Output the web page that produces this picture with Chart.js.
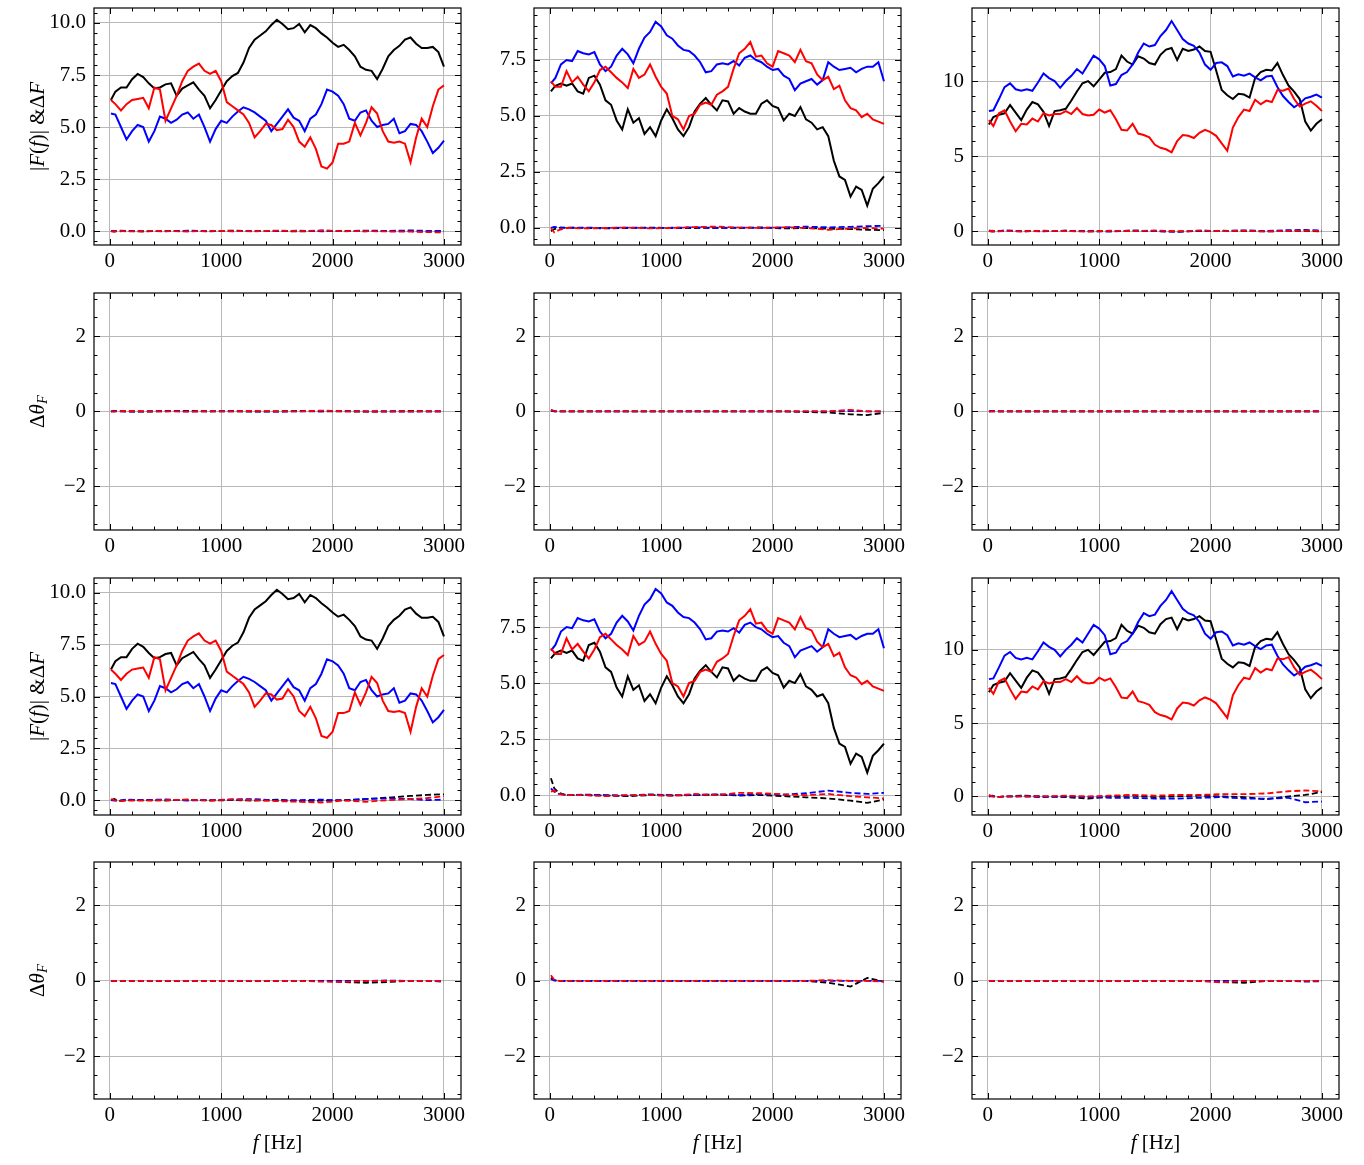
<!DOCTYPE html>
<html>
<head>
<meta charset="utf-8">
<script src="https://cdn.jsdelivr.net/npm/chart.js@4.4.1/dist/chart.umd.min.js"></script>
<style>
  body { margin: 0; background: #fff; width: 1364px; height: 1165px; position: relative; overflow: hidden; }
  canvas { position: absolute; }
</style>
</head>
<body>
<script>
// frequency grids (Hz)
var freq = [10,50,100,150,200,250,300,350,400,450,500,550,600,650,700,750,800,850,900,950,
  1000,1050,1100,1150,1200,1250,1300,1350,1400,1450,1500,1550,1600,1650,1700,1750,1800,1850,1900,1950,
  2000,2050,2100,2150,2200,2250,2300,2350,2400,2450,2500,2550,2600,2650,2700,2750,2800,2850,2900,2950,3000];
var freqLow = [10,40,80,150,300,500,700,900,1100,1300,1500,1700,1900,2100,2300,2500,2700,2850,3000];

// |F(f)| curves, column 1
var magA_black = [6.3,6.7,6.9,6.9,7.3,7.55,7.4,7.1,6.85,6.9,7.05,7.1,6.5,6.85,7.0,7.15,6.8,6.5,5.9,6.3,6.75,7.2,7.45,7.6,8.1,8.8,9.2,9.4,9.6,9.9,10.15,9.95,9.7,9.75,9.95,9.55,9.9,9.75,9.5,9.3,9.05,8.85,8.95,8.7,8.4,7.9,7.75,7.7,7.3,7.8,8.4,8.7,8.9,9.2,9.3,9.0,8.8,8.8,8.85,8.6,7.9];
var magA_red = [6.3,6.1,5.8,6.1,6.3,6.35,6.4,5.9,6.9,6.8,5.3,5.9,6.5,7.2,7.7,7.9,8.05,7.7,7.55,7.7,7.2,6.2,6.0,5.8,5.6,5.2,4.5,4.8,5.15,5.1,4.85,4.9,5.35,5.0,4.3,4.05,4.5,3.95,3.1,3.0,3.3,4.2,4.2,4.3,5.2,4.6,5.2,5.95,5.65,4.8,4.3,4.25,4.3,4.2,3.3,4.5,5.4,5.0,6.0,6.8,7.0];
var magA_blue = [5.65,5.6,5.0,4.4,4.8,5.1,5.0,4.3,4.8,5.5,5.4,5.2,5.35,5.6,5.7,5.4,5.6,5.0,4.3,4.9,5.3,5.2,5.5,5.75,5.95,5.85,5.7,5.5,5.3,4.8,5.15,5.5,5.85,5.45,5.3,4.8,5.4,5.6,6.1,6.8,6.7,6.5,6.1,5.4,5.3,5.7,5.8,5.3,5.0,5.1,5.15,5.4,4.7,4.8,5.15,5.1,4.8,4.3,3.75,4.0,4.35];

// |F(f)| curves, column 2
var magB_black = [6.1,6.35,6.45,6.35,6.45,6.1,6.0,6.7,6.8,6.4,5.7,5.5,4.8,4.4,5.3,4.7,4.9,4.2,4.5,4.1,4.8,5.3,4.9,4.4,4.1,4.5,5.2,5.55,5.8,5.5,5.25,5.7,5.65,5.1,5.35,5.2,5.1,5.1,5.55,5.7,5.45,5.35,4.8,5.1,5.0,5.4,4.85,4.7,4.4,4.5,4.1,3.0,2.3,2.15,1.4,1.85,1.7,1.0,1.75,2.0,2.3];
var magB_red = [6.55,6.3,6.3,7.0,6.5,6.75,6.4,6.1,6.5,7.05,7.2,6.95,6.7,6.5,6.25,7.1,6.7,6.85,7.3,6.75,6.3,6.0,5.0,4.85,4.4,5.0,5.1,5.5,5.6,5.5,5.95,6.1,6.3,7.1,7.8,8.0,8.3,7.65,7.7,7.35,7.2,7.9,7.8,7.7,7.4,7.95,7.45,7.35,6.85,6.6,6.75,6.2,6.35,5.7,5.35,5.25,4.95,5.1,4.85,4.75,4.65];
var magB_blue = [6.45,6.7,7.3,7.5,7.45,7.9,7.8,7.75,7.85,7.3,7.0,7.2,7.7,8.0,7.75,7.35,8.0,8.5,8.75,9.2,9.0,8.6,8.45,8.15,7.95,7.9,7.7,7.4,6.95,7.0,7.3,7.35,7.3,7.45,7.25,7.6,7.7,7.5,7.4,7.2,7.05,7.1,6.8,6.65,6.15,6.45,6.55,6.65,6.4,6.6,7.4,7.2,7.05,7.1,7.15,6.95,7.1,7.2,7.2,7.4,6.55];

// |F(f)| curves, column 3
var magC_black = [7.1,7.6,7.75,7.85,8.4,7.9,7.4,8.1,8.6,8.45,7.95,7.0,8.0,8.05,8.15,8.7,9.3,9.85,10.0,9.65,10.1,10.55,10.6,10.8,11.7,11.3,11.1,11.65,11.5,11.2,11.1,11.75,12.1,12.2,11.4,12.15,12.0,12.1,12.3,12.0,11.95,10.7,9.4,9.05,8.8,9.15,9.1,8.9,10.2,10.6,10.75,10.7,11.2,10.4,9.7,9.3,8.8,7.3,6.7,7.15,7.45];
var magC_red = [7.4,7.0,7.85,8.05,7.3,6.65,7.15,7.1,7.5,7.3,7.85,7.7,7.8,7.8,8.0,7.8,8.2,7.8,7.7,7.75,8.1,7.9,8.05,7.45,6.75,6.7,7.15,6.5,6.4,6.25,5.75,5.55,5.45,5.25,6.0,6.4,6.35,6.2,6.55,6.75,6.6,6.35,5.85,5.35,6.9,7.6,8.1,8.0,8.75,8.45,8.7,8.6,9.4,9.35,9.5,8.8,8.3,8.5,8.65,8.35,8.0];
var magC_blue = [8.0,8.05,8.8,9.6,9.85,9.45,9.35,9.45,9.35,9.9,10.5,10.2,10.0,9.55,10.0,10.35,10.8,10.5,11.1,11.7,11.45,11.0,9.7,9.8,10.4,10.6,11.1,11.9,12.5,12.3,12.4,13.0,13.4,14.0,13.4,12.8,12.5,12.35,11.9,11.1,10.75,11.2,11.25,11.0,10.3,10.45,10.35,10.5,10.25,10.05,10.3,10.35,9.6,9.0,8.6,8.25,8.5,8.85,8.95,9.1,8.9];

// Delta F (dashed), row 1
var dA_black = [0,-0.03,0.02,0,-0.02,0.01,0,-0.01,0.02,0,0.01,-0.02,0.02,0,-0.01,0.01,0,-0.02,0];
var dA_blue = [0,0.01,-0.02,0.01,0,-0.01,0.02,0,-0.01,0.01,0,0.02,-0.01,0,0.02,0.01,0.03,0.01,0];
var dA_red = [0,-0.02,0.01,-0.02,0.01,0,-0.02,0.01,0,-0.01,0.02,0,0.03,-0.01,0,-0.02,-0.03,-0.05,-0.07];
var dB_black = [-0.15,-0.05,0,0.02,0,-0.02,0,0.02,-0.01,0,0.01,0,0.03,-0.02,0,-0.03,-0.05,-0.08,-0.1];
var dB_blue = [0,0.05,0.03,0,0.02,0,0.02,0,0.01,0.03,0,0.02,0,0.03,0.06,0.03,0.05,0.08,0.1];
var dB_red = [0,-0.2,-0.1,0,-0.02,0,0.02,-0.02,0,0.04,0.06,0.02,0,0.03,0,-0.08,-0.02,0,-0.03];
var dC_black = [0,-0.03,0,0.02,-0.02,0,0.02,-0.02,0,0.03,0,-0.03,0,0.02,0,-0.02,0,0.02,-0.02];
var dC_blue = [0.05,0,-0.03,0.05,0,-0.02,0.02,0,-0.04,0.03,0,-0.06,0.03,0,0.05,0,0.06,0.08,0.03];
var dC_red = [0,0.02,-0.03,0,-0.02,0.02,0,-0.03,0.02,0,0.04,-0.02,0.03,0,0.02,-0.02,0,0.03,0];

// Delta F (dashed), row 3
var dD_black = [0,0.05,-0.05,0,0,-0.02,0.02,-0.02,0,-0.03,0.02,-0.05,-0.03,0,0.05,0.12,0.2,0.25,0.28];
var dD_blue = [0,-0.03,-0.02,0.02,0,0.03,-0.02,0,0.03,0.05,-0.02,0,0.02,-0.02,0.05,0.08,0.05,0,0.02];
var dD_red = [0.05,0,-0.05,-0.02,-0.03,0,0.02,-0.02,0.03,0,-0.05,-0.08,-0.12,-0.02,-0.08,0,0.05,0.1,0.18];
var dE_black = [0.75,0.3,0.1,0,0,-0.02,-0.05,0,-0.02,0,0.02,-0.02,0,-0.05,-0.1,-0.15,-0.25,-0.35,-0.2];
var dE_blue = [0.3,0.15,0.05,0,0.02,0,-0.02,0.03,0,0,0.03,0,0.05,0.02,0.08,0.2,0.1,0.05,0.1];
var dE_red = [0.15,0.2,0.05,0,0,-0.05,0,0,-0.03,0.05,0,0.1,0.08,0.03,0,0.05,-0.05,-0.1,-0.15];
var dF_black = [0,0.05,-0.05,0,0.05,0,-0.05,-0.15,0,0.05,-0.05,0,0.05,0,-0.05,-0.2,0,0.1,0.3];
var dF_blue = [0,0.02,-0.05,-0.02,0,-0.05,0,-0.05,-0.1,-0.1,-0.15,-0.15,-0.1,-0.05,-0.15,-0.15,-0.1,-0.4,-0.35];
var dF_red = [0.1,0,-0.05,0,0,0,0.05,0,0.05,0.1,0.05,0.1,0.1,0.15,0.15,0.2,0.35,0.4,0.35];

// Delta theta_F (dashed), row 2
var pA_black = [0,0,0.01,0,-0.01,0,0.01,0,0,-0.01,0,0.01,0,0,-0.01,0,0.01,0,0];
var pA_blue = [0,0.01,0,-0.01,0,0.01,0,0,0.01,0,-0.01,0,0,0.01,0,0,-0.01,0,0];
var pA_red = [0,-0.01,0,0.01,0,0,-0.01,0,0,0.01,0,0,0.02,0,0,-0.01,0,0,0];
var pB_black = [0.02,0,0,0,0,0,0,0,0,0,0,0,0,0,-0.02,-0.03,-0.08,-0.1,-0.04];
var pB_blue = [0.03,0,0,0,0,0,0,0,0,0,0,0,0,0,0,0,0.01,0,0];
var pB_red = [0.04,0.01,0,0,0,0,0,0,0,0,0,0,0,0,0,0,0.04,0,0];
var pC_black = [0,0,0,0,0,0,0,0,0,0,0,0,0,0,0,0,0,0,0];
var pC_blue = [0,0.01,0,0,0,0,0,0,0,0,0,0,0,0,0,0,0,0,0];
var pC_red = [0,0,0,0,0,0,0,0,0,0,0,0,0,0,0,0,0,0,0];

// Delta theta_F (dashed), row 4
var pD_black = [0,0,0,0,0,0,0,0,0,0,0,0,0,-0.03,-0.05,-0.03,0,0,0];
var pD_blue = [0,0,0,0,0,0,0,0,0,0,0,0,0,0,0,0.01,0,0,-0.02];
var pD_red = [0,0,0,0,0,0,0,0,0,0,0,0,-0.02,-0.03,0,0,0,0,0];
var pE_black = [0.08,0.02,0,0,0,0,0,0,0,0,0,0,0,0,0,-0.05,-0.15,0.08,-0.02];
var pE_blue = [0.05,0.01,0,0,0,0,0,0,0,0,0,0,0,0,0,0,0,0,0];
var pE_red = [0.15,0.03,0,0,0,0,0,0,0,0,0,0,0,0,0,0.02,0,0,-0.02];
var pF_black = [0,0,0,0,0,0,0,0,0,0,0,0,0,-0.03,-0.05,0,0,0,0];
var pF_blue = [0,0,0,0,0,0,0,0,0,0,0,0,0,0,0,0,0,-0.02,-0.01];
var pF_red = [0,0,0,0,0,0,0,0,0,0,0,0,0,-0.04,0,0,0,0,0];

// tick labels
var xTickVals = [0, 1000, 2000, 3000];
var magTicksA = [0, 2.5, 5, 7.5, 10];
var magTicksB = [0, 2.5, 5, 7.5];
var magTicksC = [0, 5, 10];
var phaseTicks = [-2, 0, 2];

var FONT = "'Liberation Serif', 'DejaVu Serif', serif";
var colLeft = [94, 534, 972];
var rowTop = [8, 293, 578, 862];
var PLOT_W = 367, PLOT_H = 237, Y_W = 94, PAD_T = 6, PAD_R = 30;

function line(xs, ys, color, dashed) {
  return {
    data: xs.map(function(x, i) { return { x: x, y: ys[i] }; }),
    borderColor: color,
    borderWidth: dashed ? 1.8 : 2,
    borderDash: dashed ? [6, 3] : [],
    pointRadius: 0,
    tension: 0,
    fill: false
  };
}

function magSets(bk, bl, rd, dbk, dbl, drd) {
  // first listed is drawn on top
  return [line(freqLow, drd, '#ff0000', true), line(freq, rd, '#ff0000', false),
          line(freqLow, dbl, '#0000ff', true), line(freq, bl, '#0000ff', false),
          line(freqLow, dbk, '#000000', true), line(freq, bk, '#000000', false)];
}
function phaseSets(bk, bl, rd) {
  return [line(freqLow, rd, '#ff0000', true), line(freqLow, bl, '#0000ff', true), line(freqLow, bk, '#000000', true)];
}

var MAG_LABEL = [['|', 0], ['F', 1], ['(', 0], ['f', 1], [')|', 0], [' &', 0], ['\u0394', 0], ['F', 1]];
var PHASE_LABEL = [['\u0394', 0], ['\u03b8', 1], ['F', 1, 1]];
var X_LABEL = [['f', 1], [' [Hz]', 0]];

var panels = [
  { r: 0, c: 0, y: [-0.67, 10.72], ticks: magTicksA, minor: 0.5, dec: 1, sets: magSets(magA_black, magA_blue, magA_red, dA_black, dA_blue, dA_red) },
  { r: 0, c: 1, y: [-0.76, 9.82], ticks: magTicksB, minor: 0.5, dec: 1, sets: magSets(magB_black, magB_blue, magB_red, dB_black, dB_blue, dB_red) },
  { r: 0, c: 2, y: [-0.93, 14.87], ticks: magTicksC, minor: 1, dec: 0, sets: magSets(magC_black, magC_blue, magC_red, dC_black, dC_blue, dC_red) },
  { r: 1, c: 0, y: [-3.16, 3.15], ticks: phaseTicks, minor: 0.5, dec: 0, sets: phaseSets(pA_black, pA_blue, pA_red) },
  { r: 1, c: 1, y: [-3.16, 3.15], ticks: phaseTicks, minor: 0.5, dec: 0, sets: phaseSets(pB_black, pB_blue, pB_red) },
  { r: 1, c: 2, y: [-3.16, 3.15], ticks: phaseTicks, minor: 0.5, dec: 0, sets: phaseSets(pC_black, pC_blue, pC_red) },
  { r: 2, c: 0, y: [-0.72, 10.72], ticks: magTicksA, minor: 0.5, dec: 1, sets: magSets(magA_black, magA_blue, magA_red, dD_black, dD_blue, dD_red) },
  { r: 2, c: 1, y: [-0.89, 9.69], ticks: magTicksB, minor: 0.5, dec: 1, sets: magSets(magB_black, magB_blue, magB_red, dE_black, dE_blue, dE_red) },
  { r: 2, c: 2, y: [-1.27, 14.9], ticks: magTicksC, minor: 1, dec: 0, sets: magSets(magC_black, magC_blue, magC_red, dF_black, dF_blue, dF_red) },
  { r: 3, c: 0, y: [-3.13, 3.15], ticks: phaseTicks, minor: 0.5, dec: 0, sets: phaseSets(pD_black, pD_blue, pD_red) },
  { r: 3, c: 1, y: [-3.13, 3.15], ticks: phaseTicks, minor: 0.5, dec: 0, sets: phaseSets(pE_black, pE_blue, pE_red) },
  { r: 3, c: 2, y: [-3.13, 3.15], ticks: phaseTicks, minor: 0.5, dec: 0, sets: phaseSets(pF_black, pF_blue, pF_red) }
];

function drawRich(ctx, parts, size) {
  var widths = parts.map(function(p) {
    ctx.font = (p[1] ? 'italic ' : '') + (p[2] ? size * 0.7 : size) + 'px ' + FONT;
    return ctx.measureText(p[0]).width;
  });
  var total = widths.reduce(function(a, b) { return a + b; }, 0);
  var x = -total / 2;
  parts.forEach(function(p, i) {
    ctx.font = (p[1] ? 'italic ' : '') + (p[2] ? size * 0.7 : size) + 'px ' + FONT;
    ctx.fillText(p[0], x, p[2] ? size * 0.25 : 0);
    x += widths[i];
  });
}

// inward ticks on all four sides, frame, axis labels
var sciFrame = {
  id: 'sciFrame',
  afterDraw: function(chart, args, opts) {
    var ctx = chart.ctx, a = chart.chartArea, xs = chart.scales.x, ys = chart.scales.y;
    ctx.save();
    ctx.strokeStyle = '#000';
    ctx.lineWidth = 1;
    function seg(x1, y1, x2, y2) { ctx.beginPath(); ctx.moveTo(x1, y1); ctx.lineTo(x2, y2); ctx.stroke(); }
    var v, p;
    for (v = Math.ceil(xs.min / 200) * 200; v <= xs.max; v += 200) {
      p = Math.round(xs.getPixelForValue(v)) + 0.5;
      var lx = (v % 1000 === 0) ? 6 : 3.5;
      seg(p, a.bottom, p, a.bottom - lx);
      seg(p, a.top, p, a.top + lx);
    }
    for (v = Math.ceil(ys.min / opts.minor) * opts.minor; v <= ys.max; v += opts.minor) {
      p = Math.round(ys.getPixelForValue(v)) + 0.5;
      var major = opts.ticks.some(function(t) { return Math.abs(t - v) < 1e-6; });
      var ly = major ? 6 : 3.5;
      seg(a.left, p, a.left + ly, p);
      seg(a.right, p, a.right - ly, p);
    }
    ctx.lineWidth = 1.2;
    ctx.strokeRect(a.left, a.top, a.right - a.left, a.bottom - a.top);
    ctx.fillStyle = '#000';
    ctx.textBaseline = 'middle';
    if (opts.ylabel) {
      ctx.save();
      ctx.translate(38, (a.top + a.bottom) / 2);
      ctx.rotate(-Math.PI / 2);
      drawRich(ctx, opts.ylabel, 21);
      ctx.restore();
    }
    if (opts.xlabel) {
      ctx.save();
      ctx.translate((a.left + a.right) / 2, a.bottom + 44);
      drawRich(ctx, opts.xlabel, 21);
      ctx.restore();
    }
    ctx.restore();
  }
};

panels.forEach(function(pn) {
  var xH = pn.r === 3 ? 80 : 36;
  var cv = document.createElement('canvas');
  cv.width = Y_W + PLOT_W + PAD_R;
  cv.height = PAD_T + PLOT_H + xH;
  cv.style.left = (colLeft[pn.c] - Y_W) + 'px';
  cv.style.top = (rowTop[pn.r] - PAD_T) + 'px';
  document.body.appendChild(cv);
  var yl = null;
  if (pn.c === 0) yl = (pn.r % 2 === 0) ? MAG_LABEL : PHASE_LABEL;
  new Chart(cv.getContext('2d'), {
    type: 'line',
    data: { datasets: pn.sets },
    plugins: [sciFrame],
    options: {
      responsive: false,
      animation: false,
      devicePixelRatio: 1,
      layout: { padding: { top: PAD_T, right: PAD_R, left: 0, bottom: 0 } },
      plugins: {
        legend: { display: false },
        tooltip: { enabled: false },
        sciFrame: { minor: pn.minor, ticks: pn.ticks, ylabel: yl, xlabel: pn.r === 3 ? X_LABEL : null }
      },
      scales: {
        x: {
          type: 'linear',
          min: -142,
          max: 3153,
          afterBuildTicks: function(s) { s.ticks = xTickVals.map(function(v) { return { value: v }; }); },
          afterFit: function(s) { s.height = xH; s.paddingLeft = 0; s.paddingRight = 0; },
          grid: { color: '#b8b8b8', lineWidth: 1, drawTicks: false },
          border: { display: false },
          ticks: {
            padding: 4, maxRotation: 0, autoSkip: false, color: '#000',
            font: { family: FONT, size: 21 },
            callback: function(v) { return String(v); }
          }
        },
        y: {
          type: 'linear',
          min: pn.y[0],
          max: pn.y[1],
          afterBuildTicks: function(s) { s.ticks = pn.ticks.map(function(v) { return { value: v }; }); },
          afterFit: function(s) { s.width = Y_W; s.paddingTop = 0; s.paddingBottom = 0; },
          grid: { color: '#b8b8b8', lineWidth: 1, drawTicks: false },
          border: { display: false },
          ticks: {
            padding: 8, color: '#000',
            font: { family: FONT, size: 21 },
            callback: function(v) { return v.toFixed(pn.dec).replace('-', '\u2212'); }
          }
        }
      }
    }
  });
});
</script>
</body>
</html>
